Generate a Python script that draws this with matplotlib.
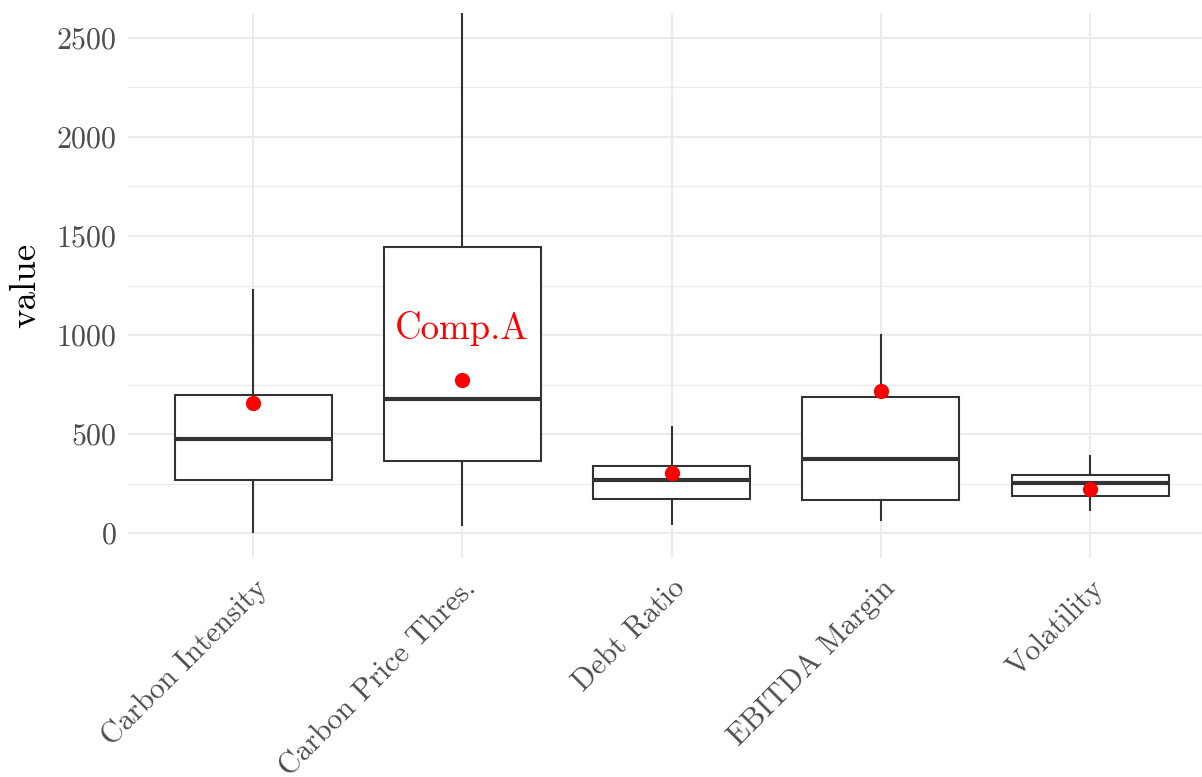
import matplotlib
matplotlib.use("Agg")
import matplotlib.pyplot as plt
from matplotlib.ticker import MultipleLocator

plt.rcParams['font.family'] = ['cmr10', 'DejaVu Serif']
plt.rcParams['axes.formatter.use_mathtext'] = True

# values
categories = ["Carbon Intensity", "Carbon Price Thres.", "Debt Ratio", "EBITDA Margin", "Volatility"]
whisker_low = [5, 40, 45, 66, 116]
q1 = [268, 364, 172, 167, 187]
median = [475, 677, 268, 374, 252]
q3 = [697, 1444, 338, 687, 293]
whisker_high = [1227, 2800, 535, 1000, 389]
company_vals = [657, 773, 303, 717, 222]
company_name = "Comp.A"
label_value = 1035

fig = plt.figure(figsize=(12.02, 7.77), dpi=100)
W, H = 1202, 777
ax = fig.add_axes([127.5 / W, 1 - 558 / H, (1202 - 127.5) / W, (558 - 13) / H])

pos = list(range(1, len(categories) + 1))
stats = []
for i in range(len(categories)):
    stats.append(dict(whislo=whisker_low[i], q1=q1[i], med=median[i], q3=q3[i],
                      whishi=whisker_high[i], fliers=[]))

ink = "#333333"
ax.bxp(stats, positions=pos, widths=0.75, showcaps=False, patch_artist=True,
       boxprops=dict(facecolor="white", edgecolor=ink, linewidth=1.5),
       whiskerprops=dict(color=ink, linewidth=1.5),
       medianprops=dict(color=ink, linewidth=3), zorder=3)

ax.scatter(pos, company_vals, s=120, color="red", zorder=5, linewidths=0)
ax.text(2, label_value, company_name, color="red", fontsize=26.5, ha="center", va="center", zorder=6)

ax.set_xlim(0.4, 0.4 + (1202 - 127.5) / 209.25)
ax.set_ylim(-125, 2625)
ax.yaxis.set_major_locator(MultipleLocator(500))
ax.yaxis.set_minor_locator(MultipleLocator(250))
ax.set_xticks(pos)
ax.set_xticklabels(categories, rotation=45, ha="right", va="top", rotation_mode="anchor")

ax.grid(True, which="major", color="#EBEBEB", linewidth=1.5, zorder=0)
ax.grid(True, which="minor", axis="y", color="#EBEBEB", linewidth=0.8, zorder=0)
ax.set_axisbelow(True)
for s in ax.spines.values():
    s.set_visible(False)
ax.tick_params(which="both", length=0, labelsize=21.5, labelcolor="#4D4D4D")
ax.tick_params(axis="x", pad=12)
ax.tick_params(axis="y", pad=8)
ax.set_ylabel("value", fontsize=26.5, labelpad=10)

fig.savefig("out.png", dpi=100)
